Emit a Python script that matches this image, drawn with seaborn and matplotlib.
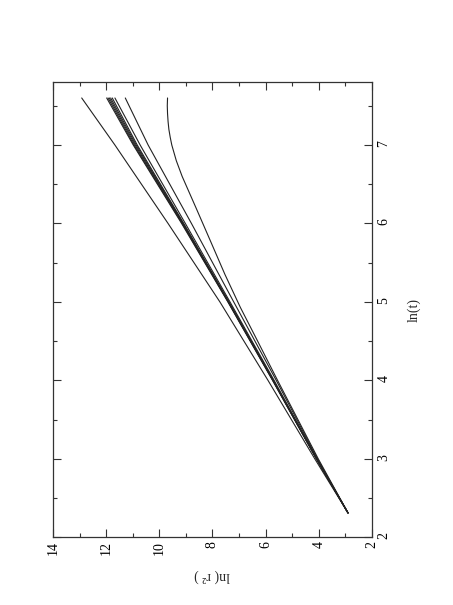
import numpy as np
import pandas as pd
import matplotlib
matplotlib.use("Agg")
import matplotlib.pyplot as plt
from matplotlib.ticker import MultipleLocator
import seaborn as sns

# ln(t) sample points
lnt = [2.31, 3.0, 4.0, 5.0, 6.0, 7.0, 7.6]

# ln(r^2) for each curve at those ln(t) values
steep = [2.9, 4.15, 5.91, 7.72, 9.67, 11.67, 12.92]
band_a = [2.9, 4.09, 5.74, 7.42, 9.16, 10.98, 11.98]
band_b = [2.9, 4.09, 5.73, 7.41, 9.14, 10.95, 11.93]
band_c = [2.9, 4.08, 5.72, 7.40, 9.12, 10.91, 11.88]
band_d = [2.9, 4.08, 5.72, 7.39, 9.10, 10.87, 11.83]
band_e = [2.9, 4.08, 5.71, 7.38, 9.08, 10.83, 11.77]
band_f = [2.9, 4.07, 5.68, 7.34, 9.02, 10.72, 11.67]
lower = [2.9, 4.05, 5.60, 7.20, 8.79, 10.42, 11.28]

# the bending curve, read at more points
lnt_bend = [2.31, 3.0, 4.0, 4.5, 4.93, 5.35, 5.78, 6.2, 6.4, 6.6, 6.8,
            7.0, 7.1, 7.2, 7.3, 7.4, 7.5, 7.6]
bend = [2.9, 4.02, 5.55, 6.3, 6.95, 7.53, 8.08, 8.62, 8.88, 9.14, 9.36,
        9.53, 9.59, 9.64, 9.67, 9.69, 9.70, 9.69]

rows = []
for name, vals in [("steep", steep), ("a", band_a), ("b", band_b), ("c", band_c),
                   ("d", band_d), ("e", band_e), ("f", band_f), ("lower", lower)]:
    for t, r in zip(lnt, vals):
        rows.append({"curve": name, "lnt": t, "lnr2": r})
for t, r in zip(lnt_bend, bend):
    rows.append({"curve": "bend", "lnt": t, "lnr2": r})
df = pd.DataFrame(rows)

sns.set_theme(style="ticks")
plt.rcParams["font.family"] = ["Liberation Serif", "DejaVu Serif"]

fig = plt.figure(figsize=(4.53, 6.05), dpi=100)
ax = fig.add_axes([0.117, 0.112, 0.704, 0.752])

names = df["curve"].unique()
sns.lineplot(data=df, x="lnr2", y="lnt", hue="curve", units="curve",
             estimator=None, sort=False, palette=["#222222"] * len(names),
             linewidth=0.8, legend=False, ax=ax)

ax.set_xlim(14, 2)
ax.set_ylim(2, 7.8)
ax.xaxis.set_major_locator(MultipleLocator(2))
ax.xaxis.set_minor_locator(MultipleLocator(1))
ax.yaxis.set_major_locator(MultipleLocator(1))
ax.yaxis.set_minor_locator(MultipleLocator(0.5))

ax.tick_params(which="both", direction="in", top=True, bottom=True,
               left=True, right=True, colors="#333333", labelsize=10)
ax.tick_params(which="major", length=6, width=0.8)
ax.tick_params(which="minor", length=3, width=0.8)
ax.tick_params(axis="y", labelleft=False, labelright=True, labelrotation=90, pad=4)
ax.tick_params(axis="x", labelrotation=90, pad=3)
for lab in ax.get_xticklabels() + ax.get_yticklabels():
    lab.set_color("black")

for s in ax.spines.values():
    s.set_color("#333333")
    s.set_linewidth(0.9)

ax.yaxis.set_label_position("right")
ax.set_ylabel("ln(t)", rotation=90, fontsize=10, labelpad=12)
ax.set_xlabel("ln( r² )", rotation=180, fontsize=10, labelpad=10)

fig.savefig("out.png", dpi=100)
